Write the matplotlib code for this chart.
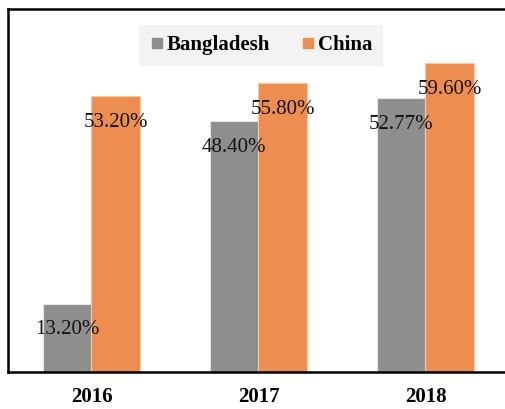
import numpy as np
import matplotlib.pyplot as plt
from matplotlib.lines import Line2D

years = ["2016", "2017", "2018"]
bangladesh = [13.20, 48.40, 52.77]
china = [53.20, 55.80, 59.60]
series_names = ["Bangladesh", "China"]

plt.rcParams['font.family'] = ['Liberation Serif', 'DejaVu Serif']

fig = plt.figure(figsize=(5.06, 4.09), dpi=100)
ax = fig.add_axes([8 / 506, 37 / 409, 501 / 506, 363 / 409])

x = np.arange(len(years))
width = 0.29
gray = '#8e8e8e'
orange = '#ee8d50'

b1 = ax.bar(x - width / 2, bangladesh, width, color=gray,
            edgecolor='#e6e6e6', linewidth=0.8)
b2 = ax.bar(x + width / 2, china, width, color=orange,
            edgecolor='#f7c9a8', linewidth=0.8)

for bars, vals in [(b1, bangladesh), (b2, china)]:
    for rect, v in zip(bars, vals):
        ax.annotate(f"{v:.2f}%", (rect.get_x() + rect.get_width() / 2, v),
                    xytext=(0, -19), textcoords='offset points',
                    ha='center', va='center', fontsize=15, color='#111111')

ax.set_xlim(-0.5, 2.5)
ax.set_ylim(0, 70)
ax.set_yticks([])
ax.set_xticks(x)
ax.set_xticklabels(years, fontsize=15, fontweight='bold')
ax.tick_params(axis='x', length=0, pad=11)

for side in ['left', 'top', 'bottom']:
    ax.spines[side].set_linewidth(1.8)
    ax.spines[side].set_color('black')
ax.spines['right'].set_visible(False)

handles = [Line2D([], [], marker='s', linestyle='', markersize=7,
                  color=c) for c in (gray, orange)]
leg = fig.legend(handles, series_names, loc='upper center',
                 bbox_to_anchor=(261 / 506, 1 - 25 / 409),
                 bbox_transform=fig.transFigure,
                 ncol=2, frameon=True, fancybox=False, handletextpad=0.1,
                 columnspacing=1.5, handlelength=0.7,
                 prop={'weight': 'bold', 'size': 15},
                 borderaxespad=0, borderpad=0.5)
leg.get_frame().set_facecolor('#f3f3f3')
leg.get_frame().set_edgecolor('none')
leg.get_frame().set_alpha(1)

fig.savefig("out.png", dpi=100)
